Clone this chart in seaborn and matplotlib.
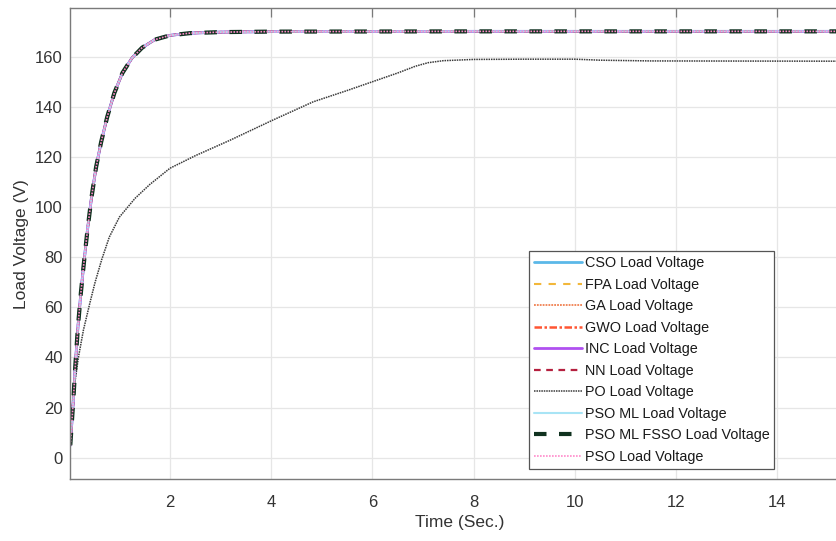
import numpy as np
import pandas as pd
import matplotlib
matplotlib.use("Agg")
import matplotlib.pyplot as plt
import seaborn as sns

# ---- data ----
t_main = [0.03, 0.06, 0.09, 0.13, 0.18, 0.24, 0.30, 0.37, 0.45, 0.54, 0.64, 0.76,
          0.90, 1.06, 1.25, 1.45, 1.70, 2.0, 2.4, 3.0, 4.0, 8.0, 15.16]
v_main = [5, 14, 23, 37, 52, 66, 78, 91, 104, 116, 126, 136,
          145.5, 153.5, 159.5, 163.6, 166.8, 168.5, 169.4, 169.8, 170.0, 170.1, 170.1]

t_po = [0.03, 0.07, 0.12, 0.19, 0.29, 0.42, 0.52, 0.65, 0.80, 1.0, 1.31, 1.6, 2.0,
        2.5, 3.19, 4.01, 4.83, 5.5, 6.0, 6.5, 6.85, 7.1, 7.4, 8.0, 9.0, 10.0, 10.5,
        11.5, 15.16]
v_po = [7, 20, 30, 40, 51, 62, 70, 79, 88, 96, 103.5, 109, 115.5,
        120.5, 126.7, 134.5, 142, 146.5, 150, 153.5, 156.2, 157.6, 158.4, 158.9, 159.0, 159.0, 158.6,
        158.3, 158.2]

series_names = ["CSO Load Voltage", "FPA Load Voltage", "GA Load Voltage",
                "GWO Load Voltage", "INC Load Voltage", "NN Load Voltage",
                "PO Load Voltage", "PSO ML Load Voltage",
                "PSO ML FSSO Load Voltage", "PSO Load Voltage"]

x_ticks = [2, 4, 6, 8, 10, 12, 14]
y_ticks = [0, 20, 40, 60, 80, 100, 120, 140, 160]

# ---- styles ----
styles = {
    "CSO Load Voltage": dict(color="#5BB8E8", linestyle="-", linewidth=2.0),
    "FPA Load Voltage": dict(color="#F2B73A", linestyle=(0, (3.5, 3.5)), linewidth=1.5),
    "GA Load Voltage": dict(color="#F08050", linestyle=(0, (1, 0.6)), linewidth=1.3),
    "GWO Load Voltage": dict(color="#FF5533", linestyle=(0, (3, 1, 1, 1)), linewidth=1.8),
    "INC Load Voltage": dict(color="#B050F0", linestyle="-", linewidth=2.0),
    "NN Load Voltage": dict(color="#B5203F", linestyle=(0, (3, 2.5)), linewidth=1.6),
    "PO Load Voltage": dict(color="#3a3a3a", linestyle=(0, (1, 0.6)), linewidth=1.1),
    "PSO ML Load Voltage": dict(color="#A8E4F5", linestyle="-", linewidth=1.5),
    "PSO ML FSSO Load Voltage": dict(color="#10321F", linestyle=(0, (3, 3)), linewidth=3.0),
    "PSO Load Voltage": dict(color="#FF8ACB", linestyle=(0, (1, 0.8)), linewidth=1.2),
}

sns.set_style("white")
plt.rcParams["font.family"] = ["Liberation Sans", "DejaVu Sans"]

fig = plt.figure(figsize=(8.36, 5.41), dpi=100)
ax = fig.add_axes([70.3 / 836, (541 - 479.3) / 541, 1 - 70.3 / 836, (479.3 - 8.3) / 541])

for name in series_names:
    if name == "PO Load Voltage":
        tx, vy = t_po, v_po
    else:
        tx, vy = t_main, v_main
    df = pd.DataFrame({"t": tx, "v": vy})
    sns.lineplot(data=df, x="t", y="v", ax=ax, label=name, errorbar=None,
                 **styles[name])

ax.set_xlim(0.03, 15.16)
ax.set_ylim(-8.6, 179.3)
ax.set_xticks(x_ticks)
ax.set_yticks(y_ticks)
ax.set_xticklabels([str(v) for v in x_ticks])
ax.set_yticklabels([str(v) for v in y_ticks])

text_c = "#333333"
ax.grid(True, color="#e6e6e6", linewidth=0.9)
ax.set_axisbelow(True)
ax.tick_params(axis="both", direction="in", length=6.5, width=0.9, color="#7a7a7a",
               labelsize=12, labelcolor=text_c, top=True)
ax.tick_params(axis="x", pad=11)
ax.tick_params(axis="y", pad=5.5)
for side in ["left", "bottom", "top"]:
    ax.spines[side].set_color("#7a7a7a")
    ax.spines[side].set_linewidth(1.0)
ax.spines["right"].set_visible(False)

ax.set_xlabel("Time (Sec.)", fontsize=12.5, color=text_c)
ax.set_ylabel("Load Voltage (V)", fontsize=12.5, color=text_c)
ax.xaxis.set_label_coords(0.509, -0.076)
ax.yaxis.set_label_coords(-0.054, 0.5)

leg = ax.legend(loc="lower left", bbox_to_anchor=(0.599, 0.022), borderaxespad=0,
                fontsize=10.4, labelspacing=0.52, handlelength=3.3, handletextpad=0.2,
                borderpad=0.35, frameon=True, fancybox=False, framealpha=1,
                edgecolor="#555555")
leg.get_frame().set_linewidth(0.9)
for txt in leg.get_texts():
    txt.set_color("#1a1a1a")

fig.savefig("out.png", dpi=100)
